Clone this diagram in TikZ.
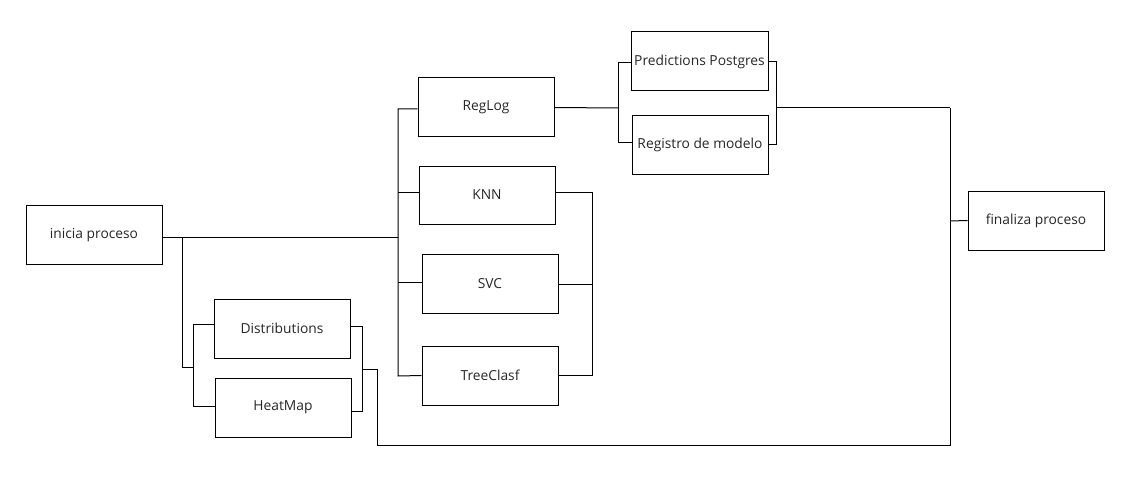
\documentclass[tikz,border=0pt]{standalone}
\usepackage{fontspec}
\setmainfont{Open Sans}
\begin{document}
\begin{tikzpicture}[x=1pt,y=-1pt,
  box/.style={draw, line width=1pt, inner sep=0pt, minimum width=136pt, minimum height=59pt,
    font=\fontsize{13.8}{16}\selectfont, text=black!85},
  wire/.style={line width=1pt}]
\useasboundingbox (0,0) rectangle (1135,484);
% boxes
\node[box] (ini) at (94,235) {inicia proceso};
\node[box] (dist) at (282,328.5) {Distributions};
\node[box] (heat) at (283,407.5) {HeatMap};
\node[box] (reglog) at (486,107.5) {RegLog};
\node[box, minimum height=58pt] (knn) at (487,195) {KNN};
\node[box] (svc) at (490,283.5) {SVC};
\node[box] (tree) at (490,375.5) {TreeClasf};
\node[box, minimum width=137pt] (pred) at (699.5,61.5) {Predictions Postgres};
\node[box, minimum height=58pt] (reg) at (700,145) {Registro de modelo};
\node[box] (fin) at (1036,220.5) {finaliza proceso};
% junction coordinates
\coordinate (mJ) at (398,237);
\coordinate (mT) at (398,109);
\coordinate (mB) at (398,376);
\coordinate (j1) at (182,237);
\coordinate (dJ) at (193,367);
\coordinate (dR) at (362,369);
\coordinate (dD) at (377,445);
\coordinate (eB) at (950,445);
\coordinate (eT) at (950,108);
\coordinate (eF) at (950,221);
\coordinate (rJ) at (618,108);
\coordinate (rR) at (776,108);
\coordinate (kR) at (592,192);
% main line to models
\draw[wire] ([yshift=-2pt]ini.east) -- (mJ);
\draw[wire] ([yshift=-1.5pt]reglog.west) -- (mT) -- (mB) -- (tree.west);
\draw[wire] (mT |- {0,192}) -- ([yshift=3pt]knn.west);
\draw[wire] (mT |- {0,282}) -- ([yshift=1.5pt]svc.west);
% branch to plots
\draw[wire] (j1) |- (dJ);
\draw[wire] ([yshift=4.5pt]dist.west) -| (dJ |- {0,406}) -- ([yshift=1.5pt]heat.west);
\draw[wire] ([yshift=2.5pt]dist.east) -| (dR |- {0,411}) -- ([yshift=-3.5pt]heat.east);
\draw[wire] (dR) -| (dD) -- (eB) -- (eT);
\draw[wire] (eF) -- (fin.west);
% reglog to outputs
\draw[wire] (reglog.east) -- (rJ);
\draw[wire] ([yshift=-1.5pt]pred.west) -| (rJ |- {0,143}) -- ([yshift=2pt]reg.west);
\draw[wire] ([yshift=-0.5pt]pred.east) -| (rR |- {0,145}) -- (reg.east);
\draw[wire] (rR) -- (eT);
% other models merge
\draw[wire] ([yshift=3pt]knn.east) -- (kR) |- (tree.east);
\draw[wire] ([yshift=-0.5pt]svc.east) -- (kR |- {0,284});
\end{tikzpicture}
\end{document}
